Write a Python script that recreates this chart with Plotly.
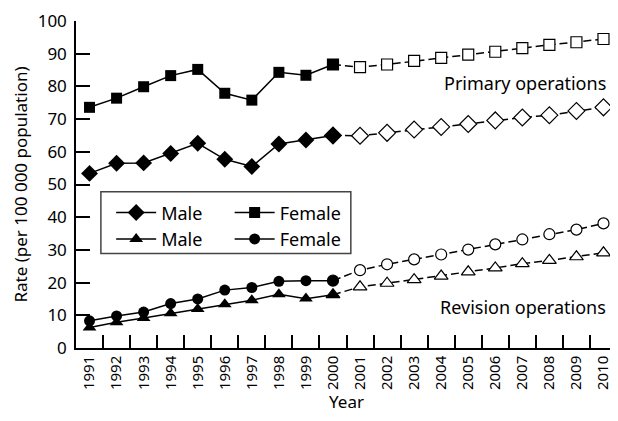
import plotly.graph_objects as go

YEARS = [str(y) for y in range(1991, 2011)]
OBS = YEARS[:10]            # 1991-2000 observed
PROJ = YEARS[9:]            # 2000-2010 projected (2000 joins the two parts)

female_primary = [73.6, 76.4, 79.9, 83.3, 85.2, 77.9, 75.8, 84.3, 83.4, 86.7,
                  85.9, 86.7, 87.8, 88.7, 89.7, 90.6, 91.7, 92.7, 93.5, 94.5]
male_primary = [53.4, 56.5, 56.6, 59.5, 62.6, 57.7, 55.5, 62.4, 63.6, 65.0,
                64.9, 65.8, 66.8, 67.6, 68.5, 69.6, 70.5, 71.2, 72.5, 73.6]
female_revision = [8.3, 9.8, 11.0, 13.6, 15.0, 17.7, 18.5, 20.4, 20.6, 20.6,
                   23.8, 25.6, 27.1, 28.6, 30.1, 31.7, 33.2, 34.8, 36.2, 38.1]
male_revision = [6.3, 7.9, 9.2, 10.6, 11.9, 13.4, 14.6, 16.4, 15.1, 16.3,
                 18.7, 19.8, 20.9, 22.0, 23.3, 24.5, 25.8, 26.8, 27.9, 29.1]

FONT = "Noto Sans, Lato, Arial, sans-serif"
LINE = dict(color="black", width=1.5)

series = [
    ("Male", male_primary, "diamond", 13, "legend"),
    ("Female", female_primary, "square", 11, "legend2"),
    ("Male", male_revision, "triangle-up", 12, "legend"),
    ("Female", female_revision, "circle", 11, "legend2"),
]

fig = go.Figure()

# projected part: dashed line, open markers
for name, vals, sym, size, lg in series:
    fig.add_trace(go.Scatter(
        x=PROJ, y=vals[9:], mode="lines+markers", showlegend=False,
        line=dict(color="black", width=1.5, dash="8px,4px"),
        marker=dict(symbol=sym, size=size, color="white",
                    line=dict(color="black", width=1.2)),
        cliponaxis=False,
    ))

# observed part: solid line, filled markers
for name, vals, sym, size, lg in series:
    fig.add_trace(go.Scatter(
        x=OBS, y=vals[:10], mode="lines+markers", name=name, legend=lg,
        line=LINE,
        marker=dict(symbol=sym, size=size, color="black"),
        cliponaxis=False,
    ))

legend_style = dict(
    font=dict(family=FONT, size=18, color="black"),
    bgcolor="rgba(0,0,0,0)", borderwidth=0,
    xanchor="left", yanchor="top", tracegroupgap=0, itemwidth=40,
)

fig.add_shape(type="rect", xref="x", yref="y", x0=0.42, x1=9.66, y0=28.9, y1=47.75,
              line=dict(color="#444", width=1.5), fillcolor="white", layer="below")

fig.add_annotation(text="Primary operations", x=0.984, xref="paper", y=81, yref="y",
                   xanchor="right", yanchor="middle", showarrow=False,
                   font=dict(family=FONT, size=18, color="black"))
fig.add_annotation(text="Revision operations", x=0.984, xref="paper", y=12.5, yref="y",
                   xanchor="right", yanchor="middle", showarrow=False,
                   font=dict(family=FONT, size=18, color="black"))

# the page puts the figure 8px in from the top-left corner, so size it to fit
fig.update_layout(
    width=610, height=405,
    margin=dict(l=68, r=1, t=13, b=65),
    paper_bgcolor="white", plot_bgcolor="white",
    font=dict(family=FONT, size=17, color="black"),
    legend=dict(x=0.065, y=0.47, **legend_style),
    legend2=dict(x=0.284, y=0.47, **legend_style),
    xaxis=dict(
        type="category", categoryorder="array", categoryarray=YEARS,
        range=[-0.5, 19.5], tickson="boundaries",
        ticks="inside", ticklen=13, tickwidth=1.5, tickcolor="black",
        tickangle=-90, tickfont=dict(size=15),
        showline=True, linecolor="black", linewidth=1.5,
        showgrid=False, zeroline=False, automargin=False,
        title=dict(text="Year", font=dict(size=17), standoff=10),
    ),
    yaxis=dict(
        range=[0, 100], tickvals=list(range(0, 101, 10)),
        ticks="inside", ticklen=14, tickwidth=1.5, tickcolor="black",
        ticklabelstandoff=4,
        showline=True, linecolor="black", linewidth=1.5,
        showgrid=False, zeroline=False, automargin=False,
        title=dict(text="Rate (per 100 000 population)", font=dict(size=17), standoff=6),
    ),
)

fig.write_html("out.html")
